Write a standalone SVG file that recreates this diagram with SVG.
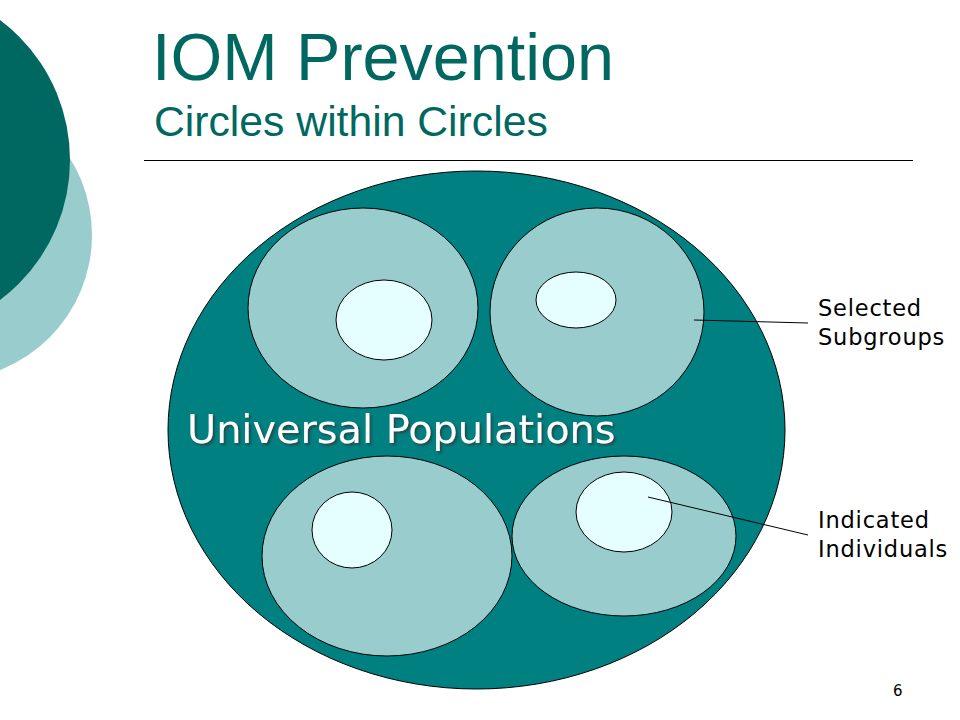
<svg xmlns="http://www.w3.org/2000/svg" width="960" height="720" viewBox="0 0 960 720">
<defs>
<style>
.outer{fill:#99CCCC;stroke:#000;stroke-width:1}
.inner{fill:#E5FFFF;stroke:#000;stroke-width:1}
.lbl{font-family:"DejaVu Sans",Verdana,sans-serif;font-size:22.5px;letter-spacing:0.8px;fill:#000}
.title{font-family:"Liberation Sans",Arial,sans-serif;fill:#006860}
.conn{stroke:#000;stroke-width:1;fill:none}
</style>
<filter id="sh" x="-5%" y="-20%" width="110%" height="140%">
<feGaussianBlur in="SourceAlpha" stdDeviation="1"/>
<feOffset dx="2" dy="2" result="b"/>
<feFlood flood-color="#333333" flood-opacity="0.7"/>
<feComposite in2="b" operator="in" result="s"/>
<feMerge><feMergeNode in="s"/><feMergeNode in="SourceGraphic"/></feMerge>
</filter>
</defs>
<rect width="960" height="720" fill="#fff"/>
<g id="decoration">
<circle cx="-53" cy="235" r="145" fill="#99CCCC"/>
<circle cx="-105" cy="160" r="175" fill="#006860"/>
</g>
<g id="title">
<text class="title" x="152" y="80" font-size="66.5">IOM Prevention</text>
<text class="title" x="154" y="136" font-size="42.7">Circles within Circles</text>
<line x1="144" y1="160.5" x2="913" y2="160.5" stroke="#000" stroke-width="1"/>
</g>
<g id="universal">
<ellipse cx="476.5" cy="430" rx="308.5" ry="259" fill="#008080" stroke="#000" stroke-width="1"/>
<text x="187" y="443" font-family="'DejaVu Sans',Verdana,sans-serif" font-size="39.8" fill="#fff" filter="url(#sh)">Universal Populations</text>
</g>
<g id="group-top-left">
<ellipse class="outer" cx="363" cy="308" rx="115" ry="100"/>
<ellipse class="inner" cx="384" cy="320" rx="48" ry="40"/>
</g>
<g id="group-top-right">
<ellipse class="outer" cx="597" cy="312" rx="107" ry="104"/>
<ellipse class="inner" cx="576" cy="300" rx="40" ry="28"/>
</g>
<g id="group-bottom-left">
<ellipse class="outer" cx="387" cy="556" rx="125" ry="100"/>
<ellipse class="inner" cx="352" cy="530" rx="40" ry="38"/>
</g>
<g id="group-bottom-right">
<ellipse class="outer" cx="624" cy="536" rx="112" ry="80"/>
<ellipse class="inner" cx="624" cy="512" rx="48" ry="40"/>
</g>
<g id="connectors">
<line class="conn" x1="694" y1="320" x2="808" y2="323"/>
<line class="conn" x1="648" y1="497" x2="808" y2="535"/>
</g>
<g id="label-selected">
<text class="lbl" x="818" y="316">Selected</text>
<text class="lbl" x="818" y="345">Subgroups</text>
</g>
<g id="label-indicated">
<text class="lbl" x="818" y="528">Indicated</text>
<text class="lbl" x="818" y="557">Individuals</text>
</g>
<g id="page-number">
<text x="893" y="696" font-family="'DejaVu Sans',Verdana,sans-serif" font-size="15" fill="#000">6</text>
</g>
</svg>
